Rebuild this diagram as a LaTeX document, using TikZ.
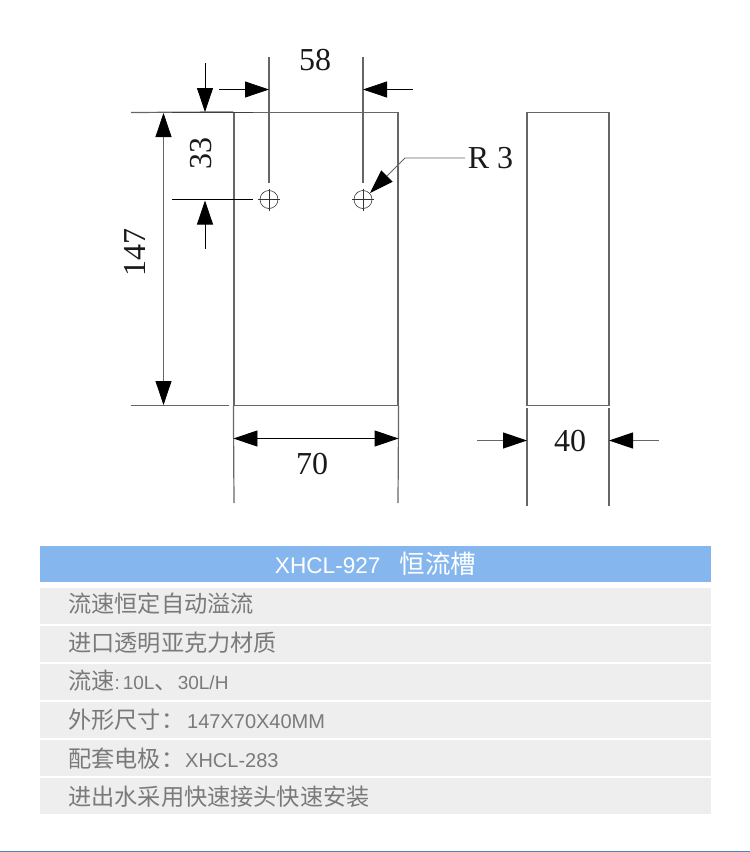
\documentclass[tikz,border=0pt]{standalone}
\usepackage{fontspec}
\usepackage{xcolor}
\setmainfont{Liberation Sans}
\newfontfamily\dimfont{Liberation Serif}
\newfontfamily\cjk{Noto Sans CJK SC}
\definecolor{headblue}{HTML}{85B7EE}
\definecolor{rowgray}{HTML}{EEEEEE}
\definecolor{rowtext}{HTML}{7A7A7A}
\definecolor{linegray}{HTML}{666666}
\definecolor{footblue}{HTML}{4A86B8}
\usetikzlibrary{arrows.meta,positioning}

\begin{document}
\begin{tikzpicture}[
    x=1pt, y=-1pt,
    node distance=38pt,
    outline/.style={draw=linegray, line width=1.2pt, inner sep=0pt},
    extline/.style={draw=linegray, line width=1.2pt},
    dimline/.style={draw=black, line width=0.8pt, -{Triangle[length=24pt,width=16pt,black]}},
    dimtext/.style={font=\dimfont\fontsize{32}{32}\selectfont, text=black!90, inner sep=0pt},
    hole/.style={circle, draw=black!80, line width=0.6pt, minimum size=18pt, inner sep=0pt},
    header/.style={rectangle, fill=headblue, text=white, minimum width=671pt, minimum height=36pt, inner sep=0pt, align=center},
    row/.style={rectangle, fill=rowgray, minimum width=671pt, minimum height=36pt, inner sep=0pt},
    rowlabel/.style={anchor=base west, text=rowtext, inner sep=0pt, font=\fontsize{20}{26}\selectfont},
    zh/.style={font=\cjk\fontsize{23.2}{26}\selectfont}
]
    \useasboundingbox (0,0) rectangle (750,852);

    % drawing
    \node[outline, minimum width=164pt, minimum height=293pt] (front) at (316,259) {};
    \node[outline, minimum width=82pt, minimum height=293pt] (side) at (568,259) {};
    \node[hole] (holeA) at (269,199.5) {};
    \node[hole] (holeB) at (363,199.5) {};

    % extension lines
    \draw[extline] (131,112.5) -- (front.north west);
    \draw[extline, black!75] (172,112.5) -- (253,112.5);
    \draw[extline] (131,405.5) -- (229,405.5);
    \draw[extline] (front.south west) -- (234,503);
    \draw[extline] (front.south east) -- (398,503);
    \draw[extline] (527,408) -- (527,506);
    \draw[extline] (609,408) -- (609,506);
    \draw[extline] (269,57) -- (269,183);
    \draw[extline] (363,57) -- (363,183);
    \draw[draw=black, line width=0.6pt] (172,199.5) -- (253,199.5);

    % centre marks
    \draw[draw=black!80, line width=0.6pt] (258,199.5) -- (280,199.5);
    \draw[draw=black!80, line width=0.6pt] (269,188.5) -- (269,210.5);
    \draw[draw=black!80, line width=0.6pt] (352,199.5) -- (374,199.5);
    \draw[draw=black!80, line width=0.6pt] (363,188.5) -- (363,210.5);

    % dimensions
    \draw[dimline, linegray, {Triangle[length=24pt,width=16pt,black]}-{Triangle[length=24pt,width=16pt,black]}] (163.5,113) -- (163.5,405);
    \draw[dimline] (205,63) -- (205,112);
    \draw[dimline] (205,249) -- (205,200.5);
    \draw[dimline] (219,89.5) -- (269,89.5);
    \draw[dimline] (413,89.5) -- (363,89.5);
    \draw[dimline, {Triangle[length=24pt,width=16pt,black]}-{Triangle[length=24pt,width=16pt,black]}] (front.west |- 0,438.5) -- (front.east |- 0,438.5);
    \draw[dimline, linegray, line width=1.2pt] (477,440.5) -- (527,440.5);
    \draw[dimline, linegray, line width=1.2pt] (659,440.5) -- (609,440.5);
    \draw[dimline, linegray, line width=0.8pt] (465,158) -- (405,158) -- (370,193);

    \node[dimtext] (lblWidth) at (315,60.5) {58};
    \node[dimtext, rotate=90] (lblDepth) at (201,153) {33};
    \node[dimtext, rotate=90] (lblHeight) at (135,252) {147};
    \node[dimtext] (lblRadius) at (490.5,158) {R 3};
    \node[dimtext] (lblFront) at (312,464.5) {70};
    \node[dimtext] (lblSide) at (570,441) {40};

    % table
    \node[header] (title) at (375.5,564) {\fontsize{22.6}{26}\selectfont XHCL-927\hspace{19pt}{\cjk\fontsize{25.5}{26}\selectfont 恒流槽}};
    \node[row, below of=title, node distance=42pt] (rowA) {};
    \node[row, below of=rowA] (rowB) {};
    \node[row, below of=rowB] (rowC) {};
    \node[row, below of=rowC] (rowD) {};
    \node[row, below of=rowD] (rowE) {};
    \node[row, below of=rowE] (rowF) {};

    \node[rowlabel, zh] (textA) at (68,612.5) {流速恒定自动溢流};
    \node[rowlabel, zh] (textB) at (68,651.5) {进口透明亚克力材质};
    \node[rowlabel] (textC) at (68,689.5) {{\cjk\fontsize{23.2}{26}\selectfont 流速}\fontsize{19}{26}\selectfont :\hspace{3pt}10L{\cjk\fontsize{23.2}{26}\selectfont 、}30L/H};
    \node[rowlabel] (textD) at (68,728.5) {{\cjk\fontsize{23.2}{26}\selectfont 外形尺寸：}\hspace{3pt}147X70X40MM};
    \node[rowlabel] (textE) at (68,767.5) {{\cjk\fontsize{23.2}{26}\selectfont 配套电极：}\hspace{1pt}XHCL-283};
    \node[rowlabel, zh] (textF) at (68,805.5) {进出水采用快速接头快速安装};

    \draw[draw=footblue, line width=1.5pt] (0,851.5) -- (750,851.5);
\end{tikzpicture}
\end{document}
